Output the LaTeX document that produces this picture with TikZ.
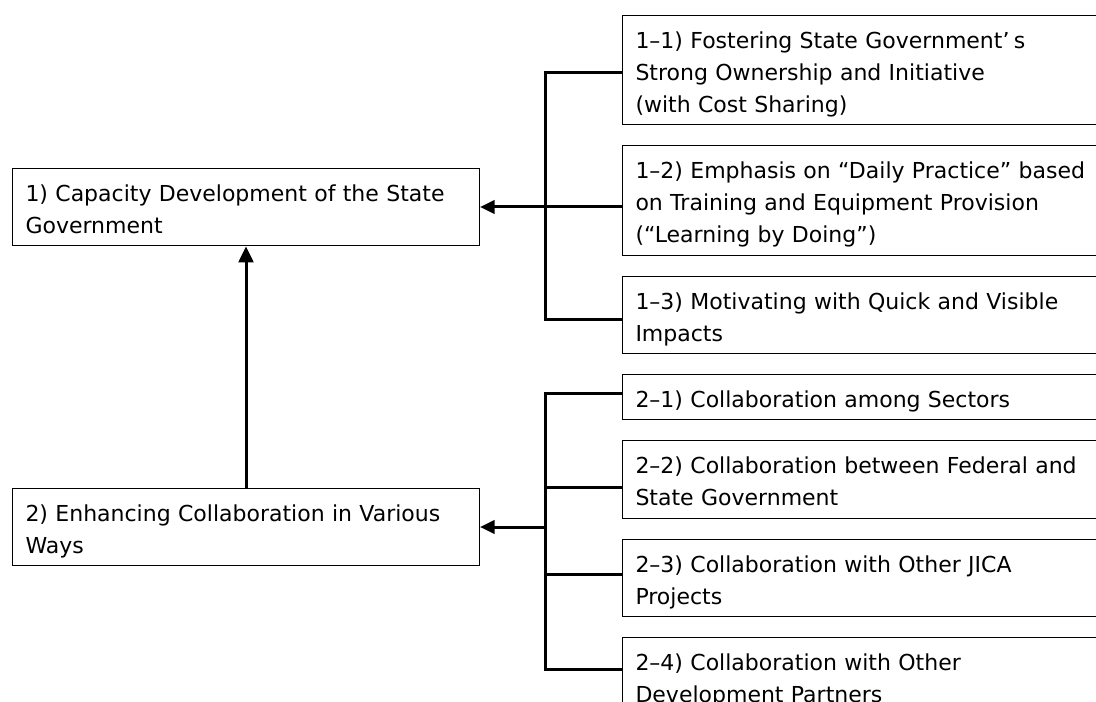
\documentclass[tikz,border=0pt]{standalone}
\usepackage{fontspec}
\setmainfont{DejaVu Sans}
\usetikzlibrary{positioning,arrows.meta}
\newcommand\boxstrut{\rule[-4.25pt]{0pt}{24pt}}

\begin{document}
\begin{tikzpicture}[x=0.75pt, y=-0.75pt, node distance=15pt,
    item/.style={rectangle, draw, line width=0.75pt, anchor=north west, align=left,
      inner xsep=9.75pt, inner ysep=5pt, font=\fontsize{16.5pt}{24pt}\selectfont,
      execute at begin node=\boxstrut, execute at end node=\boxstrut},
    goal/.style={item, text width=330.75pt},
    point/.style={item, text width=355.5pt},
    link/.style={line width=2.25pt},
    arrow/.style={link, -{Triangle[length=11pt, width=10pt]}}]
    \useasboundingbox (0,0) rectangle (1096,702);
    \clip (0,0) rectangle (1096,702);

    % Nodes
    \node (cap) [goal] at (12,168) {1) Capacity Development of the State\\Government};
    \node (col) [goal] at (12,488) {2) Enhancing Collaboration in Various\\Ways};

    \node (p11) [point] at (622,15) {1–1) Fostering State Government’\hspace{0.2em}s\\Strong Ownership and Initiative\\(with Cost Sharing)};
    \node (p12) [point, below=of p11] {1–2) Emphasis on “Daily Practice” based\\on Training and Equipment Provision\\(“Learning by Doing”)};
    \node (p13) [point, below=of p12] {1–3) Motivating with Quick and Visible\\Impacts};
    \node (p21) [point, below=of p13] {2–1) Collaboration among Sectors};
    \node (p22) [point, below=of p21] {2–2) Collaboration between Federal and\\State Government};
    \node (p23) [point, below=of p22] {2–3) Collaboration with Other JICA\\Projects};
    \node (p24) [point, below=of p23] {2–4) Collaboration with Other\\Development Partners};

    % Branch points
    \coordinate (t1) at (545,73);
    \coordinate (s1) at (545,207);
    \coordinate (b1) at (545,320);
    \coordinate (t2) at (545,393);
    \coordinate (m2) at (545,487);
    \coordinate (s2) at (545,527);
    \coordinate (n2) at (545,574);
    \coordinate (b2) at (545,669);

    % Arrows
    \draw[link] (t1 -| p11.west) -- (t1) -- (b1) -- (b1 -| p13.west);
    \draw[link] (s1) -- (s1 -| p12.west);
    \draw[arrow] (s1) -- (s1 -| cap.east);

    \draw[link] (t2 -| p21.west) -- (t2) -- (b2) -- (b2 -| p24.west);
    \draw[link] (m2) -- (m2 -| p22.west);
    \draw[link] (n2) -- (n2 -| p23.west);
    \draw[arrow] (s2) -- (s2 -| col.east);

    \draw[arrow, -{Triangle[length=12pt, width=11pt]}] (col.north) -- (cap.south);
\end{tikzpicture}
\end{document}
